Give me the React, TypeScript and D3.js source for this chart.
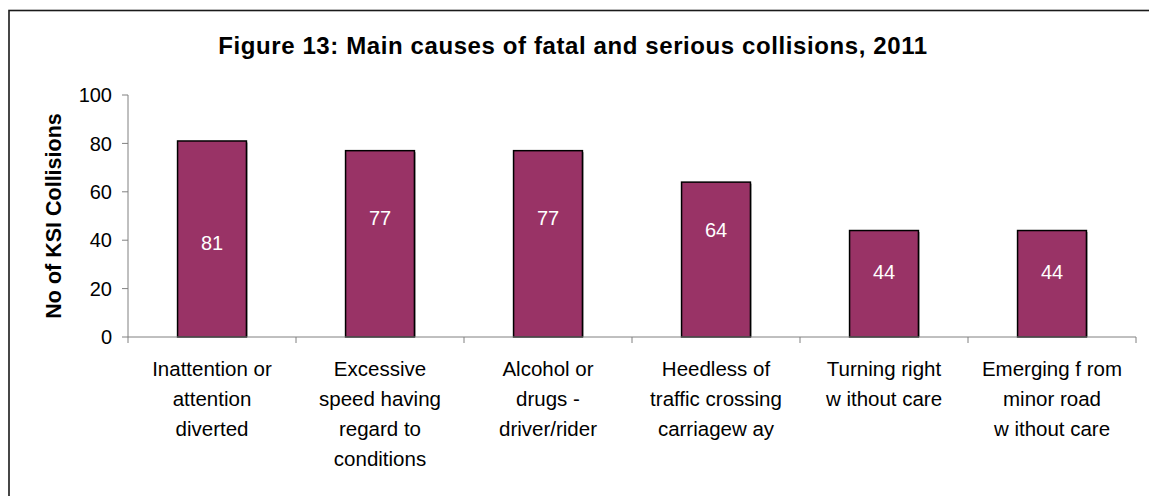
import React from "react";
import * as d3 from "d3";

// Main causes of fatal and serious (KSI) collisions, 2011
const categories: string[][] = [
  ["Inattention or", "attention", "diverted"],
  ["Excessive", "speed having", "regard to", "conditions"],
  ["Alcohol or", "drugs -", "driver/rider"],
  ["Heedless of", "traffic crossing", "carriagew ay"],
  ["Turning right", "w ithout care"],
  ["Emerging f rom", "minor road", "w ithout care"],
];
const values: number[] = [81, 77, 77, 64, 44, 44];
// where each value label sits, as a share of its bar's height
const labelFrac: number[] = [0.48, 0.64, 0.64, 0.69, 0.61, 0.61];
const yTicks: number[] = [0, 20, 40, 60, 80, 100];

const title = "Figure 13: Main causes of fatal and serious collisions, 2011";
const yTitle = "No of KSI Collisions";

const W = 1149;
const H = 496;
const FONT = "Arial, 'Liberation Sans', Helvetica, sans-serif";

export default function App() {
  const left = 128;
  const right = 1136;
  const top = 95;
  const bottom = 337;

  const x = d3
    .scaleBand<number>()
    .domain(d3.range(values.length))
    .range([left, right])
    .paddingInner(0.59)
    .paddingOuter(0.295);
  const step = (right - left) / values.length;
  const y = d3.scaleLinear().domain([0, 100]).range([bottom, top]);

  return (
    <svg
      width={W}
      height={H}
      style={{ position: "absolute", left: 0, top: 0, background: "#fff" }}
      fontFamily={FONT}
    >
      <rect x={0} y={0} width={W} height={H} fill="#fff" />
      {/* chart frame */}
      <rect x={9} y={10.5} width={1300} height={700} fill="none" stroke="#1a1a1a" strokeWidth={1.6} />

      <text
        x={573}
        y={54}
        textAnchor="middle"
        fontSize={24}
        fontWeight="bold"
        letterSpacing={0.6}
        fill="#000"
      >
        {title}
      </text>

      {/* y axis */}
      <line x1={left} x2={left} y1={y(100)} y2={y(0)} stroke="#808080" strokeWidth={1} />
      {yTicks.map((t) => (
        <g key={t}>
          <line x1={left - 6} x2={left} y1={y(t)} y2={y(t)} stroke="#808080" strokeWidth={1} />
          <text x={112} y={y(t)} dy="0.36em" textAnchor="end" fontSize={20} fill="#000">
            {t}
          </text>
        </g>
      ))}
      <text
        transform={`translate(61,${(top + bottom) / 2}) rotate(-90)`}
        textAnchor="middle"
        fontSize={21.5}
        fontWeight="bold"
        fill="#000"
      >
        {yTitle}
      </text>

      {/* bars */}
      {values.map((v, i) => {
        const bx = x(i)!;
        const bw = x.bandwidth();
        const by = y(v);
        const bh = y(0) - y(v);
        return (
          <g key={i}>
            <rect x={bx + 1.5} y={by + 1.5} width={bw} height={bh - 1.5} fill="#b0b0b0" />
            <rect x={bx} y={by} width={bw} height={bh} fill="#993366" stroke="#000" strokeWidth={1.5} />
            <text
              x={bx + bw / 2}
              y={y(0) - bh * labelFrac[i]}
              dy="0.36em"
              textAnchor="middle"
              fontSize={20}
              fill="#fff"
            >
              {v}
            </text>
          </g>
        );
      })}

      {/* category axis */}
      <line x1={left} x2={right} y1={y(0)} y2={y(0)} stroke="#808080" strokeWidth={1} />
      {d3.range(values.length + 1).map((i) => (
        <line
          key={i}
          x1={left + step * i}
          x2={left + step * i}
          y1={y(0)}
          y2={y(0) + 6}
          stroke="#808080"
          strokeWidth={1}
        />
      ))}
      {categories.map((lines, i) => (
        <text key={i} textAnchor="middle" fontSize={20.5} fill="#000">
          {lines.map((ln, k) => (
            <tspan key={k} x={x(i)! + x.bandwidth() / 2} y={376 + k * 30}>
              {ln}
            </tspan>
          ))}
        </text>
      ))}
    </svg>
  );
}
